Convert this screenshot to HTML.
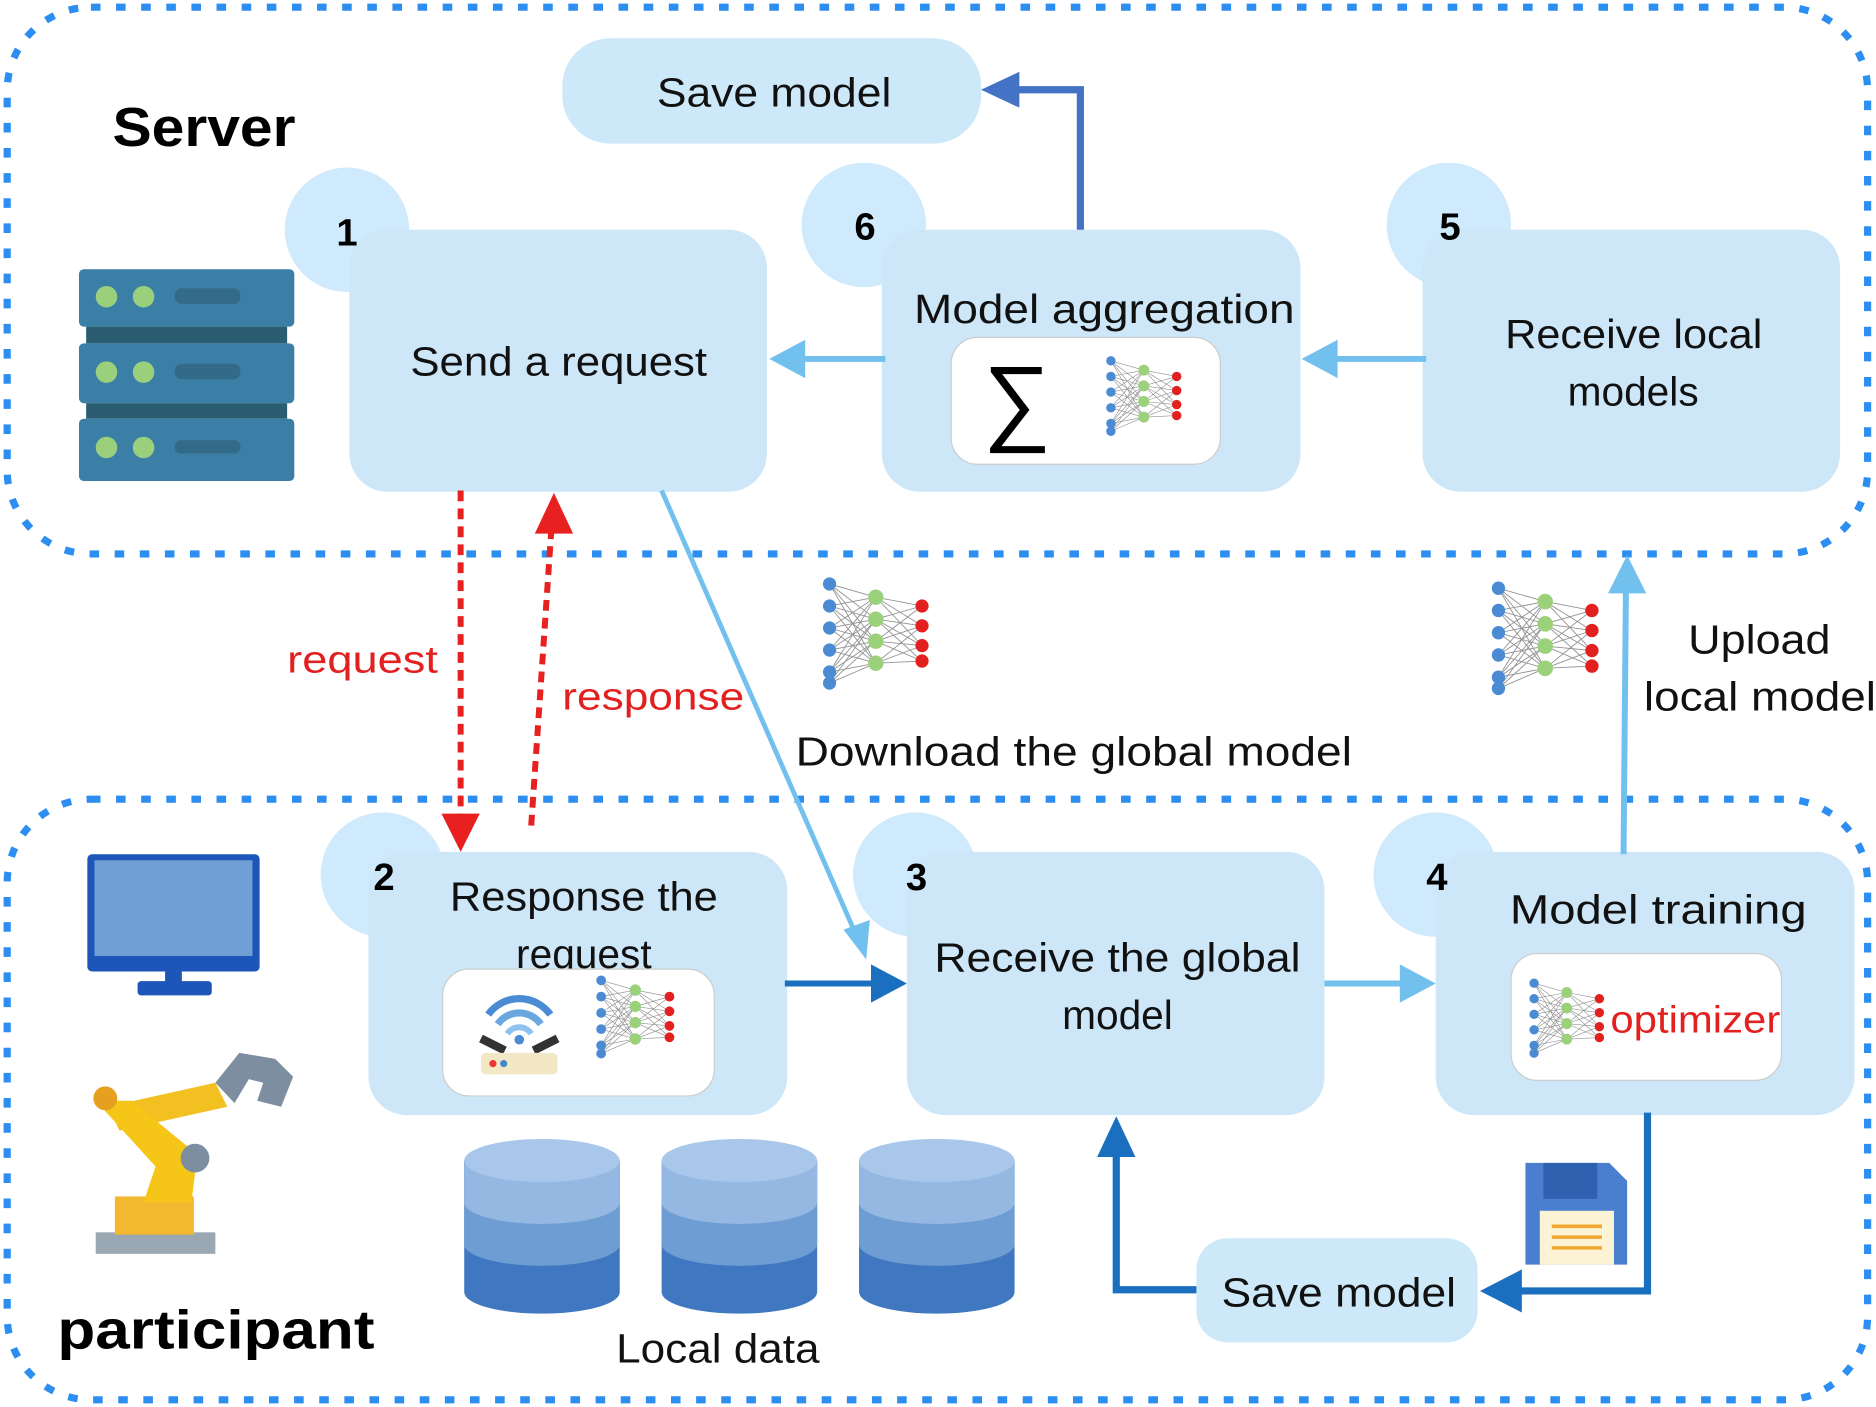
<!DOCTYPE html>
<html><head><meta charset="utf-8"><style>
html,body{margin:0;padding:0;background:#fff;}
svg{display:block;}
text{font-family:"Liberation Sans",sans-serif;}
</style></head><body>
<svg width="1876" height="1407" viewBox="0 0 1568 1176" xmlns="http://www.w3.org/2000/svg">
<defs>
<symbol id="nn" viewBox="0 0 100 110">
<g stroke="#777" stroke-width="0.8" opacity="0.8">
<path d="M8 10L50 22M8 10L50 42M8 10L50 62M8 10L50 82M8 30L50 22M8 30L50 42M8 30L50 62M8 30L50 82M8 50L50 22M8 50L50 42M8 50L50 62M8 50L50 82M8 70L50 22M8 70L50 42M8 70L50 62M8 70L50 82M8 90L50 22M8 90L50 42M8 90L50 62M8 90L50 82M8 100L50 62M8 100L50 82M8 100L50 42"/>
<path d="M50 22L92 30M50 22L92 48M50 22L92 66M50 42L92 30M50 42L92 48M50 42L92 66M50 42L92 80M50 62L92 30M50 62L92 48M50 62L92 66M50 62L92 80M50 82L92 48M50 82L92 66M50 82L92 80"/>
</g>
<g fill="#4a8bd4"><circle cx="8" cy="10" r="6"/><circle cx="8" cy="30" r="6"/><circle cx="8" cy="50" r="6"/><circle cx="8" cy="70" r="6"/><circle cx="8" cy="90" r="6"/><circle cx="8" cy="100" r="6"/></g>
<g fill="#9cd17c"><circle cx="50" cy="22" r="7"/><circle cx="50" cy="42" r="7"/><circle cx="50" cy="62" r="7"/><circle cx="50" cy="82" r="7"/></g>
<g fill="#e32020"><circle cx="92" cy="30" r="6"/><circle cx="92" cy="48" r="6"/><circle cx="92" cy="66" r="6"/><circle cx="92" cy="80" r="6"/></g>
</symbol>
</defs>

<rect x="6" y="6" width="1555" height="457" rx="70" fill="none" stroke="#2b8ef0" stroke-width="6" stroke-dasharray="8 13"/>
<rect x="6" y="668" width="1555" height="502" rx="70" fill="none" stroke="#2b8ef0" stroke-width="6" stroke-dasharray="8 13"/>

<text x="94" y="122" font-size="46" font-weight="bold" textLength="153" lengthAdjust="spacingAndGlyphs">Server</text>
<text x="48" y="1127" font-size="46" font-weight="bold" textLength="265" lengthAdjust="spacingAndGlyphs">participant</text>

<g>
<rect x="66" y="225" width="180" height="48" rx="4" fill="#3b7fa6"/>
<rect x="72" y="273" width="168" height="14" fill="#2a5d72"/>
<rect x="66" y="287" width="180" height="50" rx="4" fill="#3b7fa6"/>
<rect x="72" y="337" width="168" height="13" fill="#2a5d72"/>
<rect x="66" y="350" width="180" height="52" rx="4" fill="#3b7fa6"/>
<g fill="#9ad07c"><circle cx="89" cy="248" r="9"/><circle cx="120" cy="248" r="9"/><circle cx="89" cy="311" r="9"/><circle cx="120" cy="311" r="9"/><circle cx="89" cy="374" r="9"/><circle cx="120" cy="374" r="9"/></g>
<g fill="#336a87"><rect x="146" y="241" width="55" height="13" rx="6"/><rect x="146" y="304" width="55" height="13" rx="6"/><rect x="146" y="368" width="55" height="11" rx="5"/></g>
</g>

<rect x="470" y="32" width="350" height="88" rx="40" fill="#cde8f9"/>
<text x="549" y="89" font-size="34" fill="#111" textLength="196" lengthAdjust="spacingAndGlyphs">Save model</text>

<circle cx="290" cy="192" r="52" fill="#cfeafc"/>
<rect x="292" y="192" width="349" height="219" rx="32" fill="#cde7f8"/>
<text x="290" y="205" font-size="32" font-weight="bold" text-anchor="middle">1</text>
<text x="343" y="314" font-size="34" fill="#111" textLength="248" lengthAdjust="spacingAndGlyphs">Send a request</text>

<circle cx="722" cy="188" r="52" fill="#cfeafc"/>
<rect x="737" y="192" width="350" height="219" rx="32" fill="#cde7f8"/>
<text x="723" y="200" font-size="32" font-weight="bold" text-anchor="middle">6</text>
<text x="764" y="270" font-size="34" fill="#111" textLength="318" lengthAdjust="spacingAndGlyphs">Model aggregation</text>
<rect x="795" y="282" width="225" height="106" rx="22" fill="#fff" stroke="#ccc"/>
<text x="850" y="362" font-size="80" text-anchor="middle" font-family="Liberation Serif,serif">∑</text>
<use href="#nn" x="922" y="295" width="68" height="72"/>

<circle cx="1211" cy="188" r="52" fill="#cfeafc"/>
<rect x="1189" y="192" width="349" height="219" rx="32" fill="#cde7f8"/>
<text x="1212" y="200" font-size="32" font-weight="bold" text-anchor="middle">5</text>
<text x="1258" y="291" font-size="34" fill="#111" textLength="215" lengthAdjust="spacingAndGlyphs">Receive local</text>
<text x="1365" y="339" font-size="34" text-anchor="middle" fill="#111">models</text>

<circle cx="320" cy="731" r="52" fill="#cfeafc"/>
<rect x="308" y="712" width="350" height="220" rx="32" fill="#cde7f8"/>
<text x="321" y="744" font-size="32" font-weight="bold" text-anchor="middle">2</text>
<text x="376" y="761" font-size="34" fill="#111" textLength="224" lengthAdjust="spacingAndGlyphs">Response the</text>
<text x="488" y="809" font-size="34" text-anchor="middle" fill="#111">request</text>
<rect x="370" y="810" width="227" height="106" rx="22" fill="#fff" stroke="#ccc"/>
<g>
<path d="M408 848a32 32 0 0 1 52 0" fill="none" stroke="#4a8bd4" stroke-width="6"/>
<path d="M416 856a22 22 0 0 1 36 0" fill="none" stroke="#6aa7e0" stroke-width="6"/>
<path d="M424 864a12 12 0 0 1 20 0" fill="none" stroke="#8dc3ee" stroke-width="5"/>
<circle cx="434" cy="869" r="4" fill="#4a8bd4"/>
<path d="M402 868l20 10M466 868l-20 10" stroke="#333" stroke-width="7"/>
<rect x="402" y="880" width="64" height="18" rx="4" fill="#f3e8c6"/>
<circle cx="412" cy="889" r="3" fill="#e33"/><circle cx="421" cy="889" r="3" fill="#48c"/>
</g>
<use href="#nn" x="497" y="810" width="68" height="80"/>

<circle cx="765" cy="731" r="52" fill="#cfeafc"/>
<rect x="758" y="712" width="349" height="220" rx="32" fill="#cde7f8"/>
<text x="766" y="744" font-size="32" font-weight="bold" text-anchor="middle">3</text>
<text x="781" y="812" font-size="34" fill="#111" textLength="306" lengthAdjust="spacingAndGlyphs">Receive the global</text>
<text x="934" y="860" font-size="34" text-anchor="middle" fill="#111">model</text>

<circle cx="1200" cy="731" r="52" fill="#cfeafc"/>
<rect x="1200" y="712" width="350" height="220" rx="32" fill="#cde7f8"/>
<text x="1201" y="744" font-size="32" font-weight="bold" text-anchor="middle">4</text>
<text x="1262" y="772" font-size="34" fill="#111" textLength="248" lengthAdjust="spacingAndGlyphs">Model training</text>
<rect x="1263" y="797" width="226" height="106" rx="22" fill="#fff" stroke="#ccc"/>
<use href="#nn" x="1277" y="815" width="65" height="72"/>
<text x="1346" y="863" font-size="32" fill="#e32020" textLength="142" lengthAdjust="spacingAndGlyphs">optimizer</text>

<rect x="1000" y="1035" width="235" height="87" rx="26" fill="#cde8f9"/>
<text x="1021" y="1092" font-size="34" fill="#111" textLength="196" lengthAdjust="spacingAndGlyphs">Save model</text>

<g>
<g transform="translate(388,952)">
<path d="M0 18v110a65 18 0 0 0 130 0V18z" fill="#3f78c0"/>
<path d="M0 18v70a65 18 0 0 0 130 0V18z" fill="#6d9dd3"/>
<path d="M0 18v35a65 18 0 0 0 130 0V18z" fill="#94b8e2"/>
<ellipse cx="65" cy="18" rx="65" ry="18" fill="#a9c7ea"/>
</g>
<g transform="translate(553,952)">
<path d="M0 18v110a65 18 0 0 0 130 0V18z" fill="#3f78c0"/>
<path d="M0 18v70a65 18 0 0 0 130 0V18z" fill="#6d9dd3"/>
<path d="M0 18v35a65 18 0 0 0 130 0V18z" fill="#94b8e2"/>
<ellipse cx="65" cy="18" rx="65" ry="18" fill="#a9c7ea"/>
</g>
<g transform="translate(718,952)">
<path d="M0 18v110a65 18 0 0 0 130 0V18z" fill="#3f78c0"/>
<path d="M0 18v70a65 18 0 0 0 130 0V18z" fill="#6d9dd3"/>
<path d="M0 18v35a65 18 0 0 0 130 0V18z" fill="#94b8e2"/>
<ellipse cx="65" cy="18" rx="65" ry="18" fill="#a9c7ea"/>
</g>
</g>
<text x="515" y="1139" font-size="34" fill="#111" textLength="170" lengthAdjust="spacingAndGlyphs">Local data</text>

<rect x="73" y="714" width="144" height="98" rx="4" fill="#1d56b8"/>
<rect x="79" y="719" width="132" height="80" fill="#6f9fd4"/>
<rect x="138" y="812" width="14" height="10" fill="#1d56b8"/>
<rect x="115" y="820" width="62" height="12" rx="3" fill="#1d56b8"/>

<g>
<rect x="80" y="1030" width="100" height="18" fill="#9aa8b4"/>
<rect x="96" y="1000" width="66" height="32" fill="#f2b830"/>
<path d="M90 925L180 905L190 925L100 945z" fill="#f2c020"/>
<path d="M80 920L110 920L165 965L160 1005L120 1005L130 975z" fill="#f5c518"/>
<circle cx="163" cy="968" r="12" fill="#7d8ea0"/>
<circle cx="88" cy="918" r="10" fill="#e6a020"/>
<path d="M180 905l20-25 30 5 15 15-10 25-20-5 5-15-12-3-12 20z" fill="#7d8ea0"/>
</g>

<path d="M1275 972h70l15 15v70h-85z" fill="#4a7fd0"/>
<rect x="1290" y="972" width="45" height="30" fill="#3060b0"/>
<rect x="1287" y="1012" width="62" height="45" fill="#fbf3d4"/>
<g stroke="#f0a830" stroke-width="3"><path d="M1297 1025h42M1297 1034h42M1297 1043h42"/></g>

<use href="#nn" x="686" y="478" width="92" height="103"/>
<use href="#nn" x="1245" y="482" width="93" height="103"/>

<text x="240" y="562" font-size="32" fill="#e32020" textLength="126" lengthAdjust="spacingAndGlyphs">request</text>
<text x="470" y="593" font-size="32" fill="#e32020" textLength="152" lengthAdjust="spacingAndGlyphs">response</text>
<text x="665" y="640" font-size="34" fill="#111" textLength="465" lengthAdjust="spacingAndGlyphs">Download the global model</text>
<text x="1411" y="546" font-size="34" fill="#111" textLength="119" lengthAdjust="spacingAndGlyphs">Upload</text>
<text x="1374" y="594" font-size="34" fill="#111" textLength="194" lengthAdjust="spacingAndGlyphs">local model</text>

<g fill="none" stroke-linejoin="miter">
<polyline points="903,192 903,75 845,75" stroke="#4472c4" stroke-width="6"/>
<line x1="740" y1="300" x2="668" y2="300" stroke="#72c0ee" stroke-width="5"/>
<line x1="1192" y1="300" x2="1112" y2="300" stroke="#72c0ee" stroke-width="5"/>
<line x1="385" y1="410" x2="385" y2="684" stroke="#e82020" stroke-width="5" stroke-dasharray="9 6"/>
<line x1="444" y1="690" x2="461" y2="440" stroke="#e82020" stroke-width="5" stroke-dasharray="9 6"/>
<line x1="553" y1="410" x2="714" y2="778" stroke="#72c0ee" stroke-width="4"/>
<line x1="656" y1="822" x2="732" y2="822" stroke="#1a6fbf" stroke-width="5"/>
<line x1="1107" y1="822" x2="1176" y2="822" stroke="#72c0ee" stroke-width="5"/>
<line x1="1357" y1="714" x2="1359" y2="490" stroke="#72c0ee" stroke-width="5"/>
<polyline points="1377,930 1377,1079 1268,1079" stroke="#1a6fbf" stroke-width="6"/>
<polyline points="1000,1078 933,1078 933,965" stroke="#1a6fbf" stroke-width="6"/>
</g>
<g>
<polygon points="820,75 852,60 852,90" fill="#4472c4"/>
<polygon points="643,300 673,284 673,316" fill="#72c0ee"/>
<polygon points="1088,300 1118,284 1118,316" fill="#72c0ee"/>
<polygon points="385,712 369,680 401,680" fill="#e82020"/>
<polygon points="463,412 479,446 447,446" fill="#e82020"/>
<polygon points="724,802 705,777 727,769" fill="#72c0ee"/>
<polygon points="758,822 728,806 728,838" fill="#1a6fbf"/>
<polygon points="1200,822 1170,806 1170,838" fill="#72c0ee"/>
<polygon points="1360,464 1376,496 1344,496" fill="#72c0ee"/>
<polygon points="1237,1079 1272,1061 1272,1097" fill="#1a6fbf"/>
<polygon points="933,933 917,967 949,967" fill="#1a6fbf"/>
</g>
</svg>
</body></html>
